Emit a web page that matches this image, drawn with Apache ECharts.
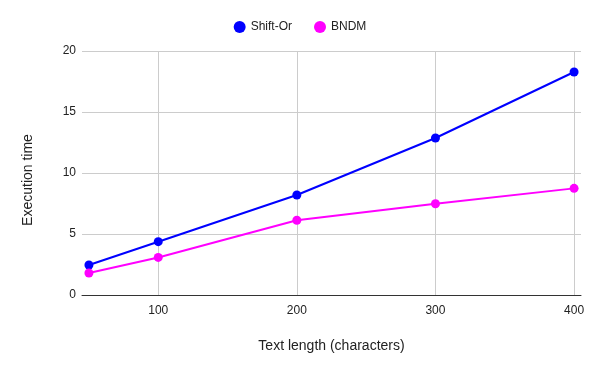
<!DOCTYPE html>
<html><head><meta charset="utf-8">
<script src="https://cdn.jsdelivr.net/npm/echarts@6/dist/echarts.min.js"></script>
<style>html,body{margin:0;padding:0;background:#fff}#c{width:600px;height:371px}</style>
</head><body><div id="c"></div>
<script>
const xValues = [50, 100, 200, 300, 400];
const shiftOr = [2.46, 4.37, 8.2, 12.87, 18.28];
const bndm = [1.8, 3.08, 6.13, 7.48, 8.74];
const xTicks = [100, 200, 300, 400];
const yTicks = [0, 5, 10, 15, 20];

const font = 'Liberation Sans, Arial, sans-serif';
const chart = echarts.init(document.getElementById('c'));
chart.setOption({
  animation: false,
  textStyle: { fontFamily: font },
  legend: {
    top: 16, left: 'center', itemGap: 22,
    icon: 'circle', itemWidth: 12, itemHeight: 12,
    textStyle: { fontFamily: font, fontSize: 12, color: '#222' },
    data: ['Shift-Or', 'BNDM']
  },
  grid: { left: 82, right: 19, top: 51, bottom: 76, containLabel: false },
  xAxis: {
    type: 'value', min: 45, max: 405,
    name: 'Text length (characters)', nameLocation: 'middle', nameGap: 44,
    nameTextStyle: { fontFamily: font, fontSize: 14, color: '#222' },
    axisLine: { show: true, lineStyle: { color: '#333', width: 1 } },
    axisTick: { show: false, customValues: xTicks },
    axisLabel: { customValues: xTicks, fontFamily: font, fontSize: 12, color: '#222', margin: 10 },
    splitLine: { show: true, lineStyle: { color: '#ccc', width: 1 } }
  },
  yAxis: {
    type: 'value', min: 0, max: 20, interval: 5,
    name: 'Execution time', nameLocation: 'middle', nameGap: 47, nameRotate: 90,
    nameTextStyle: { fontFamily: font, fontSize: 14, color: '#222', padding: [0, 14, 0, 0] },
    axisLine: { show: false }, axisTick: { show: false },
    axisLabel: { fontFamily: font, fontSize: 12, color: '#222', margin: 6 },
    splitLine: { show: true, lineStyle: { color: '#ccc', width: 1 } }
  },
  series: [
    { name: 'Shift-Or', type: 'line', data: xValues.map((x, i) => [x, shiftOr[i]]),
      color: '#0000ff', lineStyle: { width: 2 }, symbol: 'circle', symbolSize: 9 },
    { name: 'BNDM', type: 'line', data: xValues.map((x, i) => [x, bndm[i]]),
      color: '#ff00ff', lineStyle: { width: 2 }, symbol: 'circle', symbolSize: 9 }
  ]
});
</script></body></html>
